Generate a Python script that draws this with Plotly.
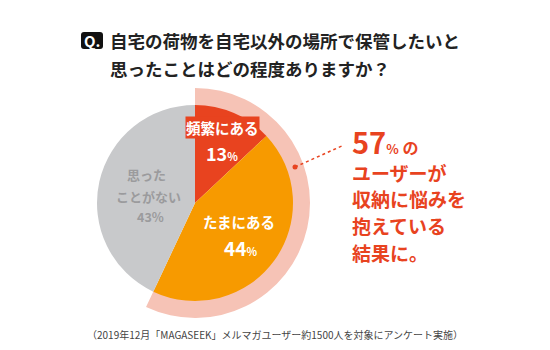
import plotly.graph_objects as go

# ---- data ----
categories = ["頻繁にある", "たまにある", "思ったことがない"]
values = [13, 44, 43]
slice_colors = ["#E8431F", "#F79A00", "#C8C9CB"]
title_lines = ["自宅の荷物を自宅以外の場所で保管したいと", "思ったことはどの程度ありますか？"]
callout_lines = ["ユーザーが", "収納に悩みを", "抱えている", "結果に。"]
footer = "（2019年12月「MAGASEEK」メルマガユーザー約1500人を対象にアンケート実施）"

W, H = 550, 350
FONT = "Noto Sans CJK JP"
RED = "#E8431F"

def px(x):
    return x / W

def py(y):
    return 1 - y / H

cx, cy, r_in, r_out = 195, 203, 98, 115
concern = values[0] + values[1]

fig = go.Figure()
# outer ring highlighting "concern" share
fig.add_trace(go.Pie(
    values=[concern, 100 - concern],
    marker=dict(colors=["#F6C3B6", "rgba(0,0,0,0)"], line=dict(width=0)),
    hole=0.8, sort=False, direction="clockwise", rotation=0,
    textinfo="none", hoverinfo="skip", showlegend=False,
    domain=dict(x=[px(cx - r_out), px(cx + r_out)], y=[py(cy + r_out), py(cy - r_out)]),
))
# main pie
fig.add_trace(go.Pie(
    labels=categories, values=values,
    marker=dict(colors=slice_colors, line=dict(width=0)),
    sort=False, direction="clockwise", rotation=0,
    textinfo="none", hoverinfo="skip", showlegend=False,
    domain=dict(x=[px(cx - r_in), px(cx + r_in)], y=[py(cy + r_in), py(cy - r_in)]),
))

ann = []
def add(text, x, y, size, color, xanchor="center", bg=None, weight="bold"):
    ann.append(dict(text=text, x=px(x), y=py(y), xref="paper", yref="paper",
                    xanchor=xanchor, yanchor="middle", showarrow=False,
                    bgcolor=bg, borderpad=0,
                    font=dict(family=FONT, size=size, color=color, weight=weight)))

# title
add("Q.", 92, 41, 15, "white")
add(title_lines[0], 109, 41, 17.5, "#222222", xanchor="left")
add(title_lines[1], 109, 68, 17.5, "#222222", xanchor="left")

# slice labels
add(categories[0], 222, 128, 14.5, "white", bg=RED)
add(f"{values[0]}<span style='font-size:11px'>%</span>", 222, 153, 18, "white")
add(categories[1], 239, 222, 14.5, "white")
add(f"{values[1]}<span style='font-size:11px'>%</span>", 240, 247, 19, "white")
add(categories[2][:3], 146, 174, 13, "#9B9B9D")
add(categories[2][3:], 148, 196, 13, "#9B9B9D")
add(f"{values[2]}%", 150, 216, 12.5, "#9B9B9D")

# callout
add(f"{concern}<span style='font-size:13px'>%</span><span style='font-size:16px'> の</span>",
    351, 141, 29, RED, xanchor="left")
for i, line in enumerate(callout_lines):
    add(line, 351, 172 + i * 26.7, 19, RED, xanchor="left")

# footer
add(footer, 275, 334, 10, "#444444", weight="normal")

shapes = [
    # Q badge (rounded square)
    dict(type="path", xref="paper", yref="paper",
         path=("M {a},{b} L {c},{b} Q {d},{b} {d},{e} L {d},{f} Q {d},{g} {c},{g} "
               "L {a},{g} Q {h},{g} {h},{f} L {h},{e} Q {h},{b} {a},{b} Z").format(
             a=px(84), c=px(100), d=px(103), h=px(81),
             b=py(32), e=py(35), f=py(46), g=py(49)),
         fillcolor="#111111", line=dict(width=0), layer="below"),
    # dotted leader line
    dict(type="line", xref="paper", yref="paper", x0=px(295), y0=py(167), x1=px(344), y1=py(145),
         line=dict(color=RED, width=1.5, dash="dot")),
    dict(type="circle", xref="paper", yref="paper", x0=px(292.5), y0=py(164.5), x1=px(297.5), y1=py(169.5),
         fillcolor=RED, line=dict(width=0)),
]

fig.update_layout(width=W, height=H, margin=dict(l=0, r=0, t=0, b=0),
                  paper_bgcolor="white", plot_bgcolor="white",
                  annotations=ann, shapes=shapes)
fig.write_html("out.html")
